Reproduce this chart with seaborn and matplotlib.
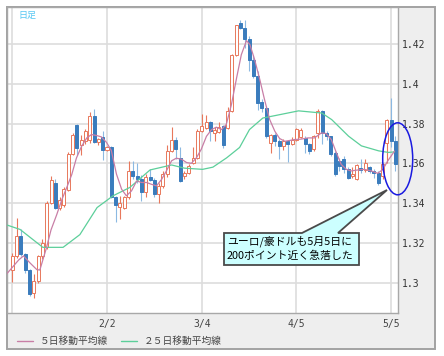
import matplotlib
matplotlib.use("Agg")
import matplotlib.pyplot as plt
import matplotlib.transforms as mtransforms
from matplotlib.patches import Rectangle, Polygon, Ellipse
from matplotlib.lines import Line2D
import numpy as np
import pandas as pd
import seaborn as sns

# daily OHLC (EUR/AUD), one row per trading day
opens = [1.3064, 1.3132, 1.3234, 1.3144, 1.3064, 1.2950, 1.3010, 1.3132, 1.3180, 1.3400,
         1.3501, 1.3378, 1.3390, 1.3466, 1.3649, 1.3795, 1.3690, 1.3710, 1.3719, 1.3840,
         1.3706, 1.3733, 1.3666, 1.3683, 1.3432, 1.3380, 1.3378, 1.3432, 1.3562, 1.3537,
         1.3520, 1.3454, 1.3532, 1.3515, 1.3445, 1.3487, 1.3549, 1.3663, 1.3716, 1.3629,
         1.3537, 1.3554, 1.3604, 1.3629, 1.3763, 1.3780, 1.3808, 1.3755, 1.3758, 1.3787,
         1.3780, 1.3865, 1.4146, 1.4305, 1.4280, 1.4227, 1.4121, 1.4038, 1.3910, 1.3879,
         1.3703, 1.3745, 1.3712, 1.3686, 1.3712, 1.3698, 1.3720, 1.3735, 1.3728, 1.3695,
         1.3672, 1.3753, 1.3862, 1.3753, 1.3737, 1.3653, 1.3612, 1.3620, 1.3570, 1.3537,
         1.3520, 1.3578, 1.3567, 1.3580, 1.3560, 1.3553, 1.3537, 1.3700, 1.3820, 1.3712]
highs = [1.3151, 1.3324, 1.3268, 1.3150, 1.3070, 1.3045, 1.3140, 1.3222, 1.3410, 1.3538,
         1.3520, 1.3432, 1.3481, 1.3655, 1.3755, 1.3798, 1.3745, 1.3773, 1.3857, 1.3871,
         1.3730, 1.3763, 1.3688, 1.3685, 1.3435, 1.3437, 1.3437, 1.3613, 1.3613, 1.3600,
         1.3540, 1.3545, 1.3570, 1.3525, 1.3503, 1.3562, 1.3690, 1.3783, 1.3733, 1.3680,
         1.3562, 1.3595, 1.3680, 1.3772, 1.3847, 1.3845, 1.3812, 1.3785, 1.3810, 1.3792,
         1.3885, 1.4150, 1.4298, 1.4322, 1.4322, 1.4238, 1.4146, 1.4063, 1.3922, 1.3888,
         1.3748, 1.3753, 1.3725, 1.3725, 1.3720, 1.3732, 1.3780, 1.3778, 1.3737, 1.3703,
         1.3745, 1.3873, 1.3870, 1.3762, 1.3740, 1.3662, 1.3628, 1.3637, 1.3582, 1.3582,
         1.3595, 1.3620, 1.3620, 1.3587, 1.3573, 1.3562, 1.3603, 1.3823, 1.3928, 1.3737]
lows = [1.3002, 1.3124, 1.3132, 1.3047, 1.2935, 1.2924, 1.2998, 1.3120, 1.3170, 1.3395,
        1.3370, 1.3365, 1.3382, 1.3460, 1.3640, 1.3644, 1.3640, 1.3695, 1.3702, 1.3700,
        1.3690, 1.3615, 1.3660, 1.3428, 1.3303, 1.3320, 1.3370, 1.3420, 1.3520, 1.3500,
        1.3412, 1.3430, 1.3510, 1.3430, 1.3403, 1.3478, 1.3530, 1.3655, 1.3621, 1.3505,
        1.3520, 1.3545, 1.3595, 1.3620, 1.3758, 1.3772, 1.3711, 1.3715, 1.3752, 1.3678,
        1.3772, 1.3860, 1.4140, 1.4276, 1.4180, 1.4063, 1.4030, 1.3870, 1.3860, 1.3728,
        1.3653, 1.3686, 1.3624, 1.3665, 1.3607, 1.3690, 1.3713, 1.3730, 1.3653, 1.3645,
        1.3662, 1.3728, 1.3695, 1.3720, 1.3637, 1.3537, 1.3562, 1.3553, 1.3523, 1.3528,
        1.3517, 1.3553, 1.3557, 1.3553, 1.3528, 1.3490, 1.3520, 1.3600, 1.3680, 1.3562]
closes = [1.3132, 1.3234, 1.3144, 1.3064, 1.2941, 1.3010, 1.3132, 1.3200, 1.3400, 1.3518,
          1.3375, 1.3417, 1.3471, 1.3649, 1.3745, 1.3677, 1.3720, 1.3761, 1.3837, 1.3706,
          1.3722, 1.3666, 1.3683, 1.3432, 1.3392, 1.3403, 1.3432, 1.3562, 1.3537, 1.3520,
          1.3454, 1.3532, 1.3515, 1.3445, 1.3487, 1.3549, 1.3663, 1.3716, 1.3671, 1.3512,
          1.3554, 1.3587, 1.3629, 1.3763, 1.3788, 1.3808, 1.3762, 1.3770, 1.3782, 1.3690,
          1.3865, 1.4146, 1.4294, 1.4280, 1.4227, 1.4121, 1.4038, 1.3904, 1.3879, 1.3736,
          1.3741, 1.3712, 1.3686, 1.3715, 1.3698, 1.3720, 1.3775, 1.3768, 1.3695, 1.3662,
          1.3737, 1.3862, 1.3753, 1.3737, 1.3645, 1.3545, 1.3587, 1.3570, 1.3528, 1.3548,
          1.3590, 1.3567, 1.3603, 1.3560, 1.3550, 1.3503, 1.3595, 1.3820, 1.3712, 1.3595]

# moving averages (x = trading-day index)
ma5_x = [-1.2, 1.5, 2.6, 4.1, 5.7, 6.4, 7.9, 9.0, 10.3, 11.5, 12.6, 13.8, 14.9, 16.1,
         17.3, 18.4, 19.6, 20.7, 21.9, 23.0, 24.2, 25.4, 26.5, 27.7, 28.9, 30.0, 31.2,
         32.3, 33.5, 34.7, 35.8, 37.0, 38.1, 39.3, 40.5, 41.6, 42.8, 43.9, 45.1, 46.3,
         47.4, 48.6, 49.7, 50.9, 52.1, 53.2, 54.4, 55.2, 56.3, 57.5, 58.6, 59.8, 61.0,
         62.1, 63.3, 64.4, 65.6, 67.1, 68.7, 70.2, 71.8, 72.9, 74.1, 75.3, 76.4, 77.6,
         78.7, 80.3, 81.8, 83.4, 84.9, 86.1, 87.2, 88.8]
ma5_y = [1.3047, 1.3115, 1.3135, 1.3100, 1.3066, 1.3064, 1.3173, 1.3266, 1.3341, 1.3417,
         1.3476, 1.3543, 1.3627, 1.3686, 1.3728, 1.3745, 1.3740, 1.3733, 1.3705, 1.3665,
         1.3546, 1.3470, 1.3437, 1.3462, 1.3512, 1.3504, 1.3504, 1.3495, 1.3487, 1.3520,
         1.3562, 1.3613, 1.3626, 1.3621, 1.3604, 1.3600, 1.3629, 1.3671, 1.3736, 1.3770,
         1.3782, 1.3770, 1.3795, 1.3895, 1.4029, 1.4146, 1.4217, 1.4197, 1.4121, 1.4021,
         1.3920, 1.3820, 1.3761, 1.3725, 1.3711, 1.3715, 1.3720, 1.3722, 1.3728, 1.3728,
         1.3753, 1.3750, 1.3720, 1.3653, 1.3595, 1.3570, 1.3562, 1.3567, 1.3570, 1.3562,
         1.3550, 1.3570, 1.3612, 1.3662]
ma25_x = [-1.2, 1.8, 4.8, 7.1, 11.8, 15.7, 19.7, 23.4, 27.3, 32.0, 37.0, 40.0, 44.2,
          46.6, 49.8, 52.8, 55.1, 58.2, 61.0, 66.5, 71.9, 74.2, 78.1, 81.1, 85.1, 87.4, 88.8]
ma25_y = [1.3290, 1.3268, 1.3217, 1.3178, 1.3178, 1.3242, 1.3378, 1.3437, 1.3479, 1.3567,
          1.3592, 1.3576, 1.3570, 1.3581, 1.3628, 1.3680, 1.3770, 1.3828, 1.3840, 1.3864,
          1.3853, 1.3820, 1.3737, 1.3688, 1.3663, 1.3655, 1.3658]

date_ticks = [0, 22, 44, 66, 88]
date_labels = ["", "2/2", "3/4", "4/5", "5/5"]
price_ticks = [1.30, 1.32, 1.34, 1.36, 1.38, 1.40, 1.42]
price_labels = ["1.3", "1.32", "1.34", "1.36", "1.38", "1.4", "1.42"]
legend_labels = ["５日移動平均線", "２５日移動平均線"]
note_lines = ["ユーロ/豪ドルも5月5日に", "200ポイント近く急落した"]

UP = "#e8785c"
DOWN = "#3a7cbd"
DOWN_WICK = "#8cb9e2"
MA5 = "#c87ea6"
MA25 = "#5ccf9a"

sns.set_style("white")
plt.rcParams["font.family"] = ["Noto Sans CJK JP", "DejaVu Sans"]

df = pd.DataFrame({"open": opens, "high": highs, "low": lows, "close": closes})
df["x"] = np.arange(len(df))
df["up"] = df["close"] >= df["open"]
df["bottom"] = df[["open", "close"]].min(axis=1)
df["body"] = (df["close"] - df["open"]).abs().clip(lower=0.00015)

W, H = 444, 356
fig = plt.figure(figsize=(W / 100, H / 100), dpi=100)
px = mtransforms.Affine2D().scale(1 / W, -1 / H).translate(0, 1) + fig.transFigure

# grey frame behind plot area
frame = Rectangle((7, 7), 428, 342, transform=px, facecolor="#eeeeee",
                  edgecolor="#a2a2a2", lw=1.4, zorder=-5)
fig.patches.append(frame)

ax = fig.add_axes([7 / W, 1 - 313 / H, 391 / W, 306 / H])
ax.set_facecolor("white")
for s in ax.spines.values():
    s.set_color("#a8a8a8")
    s.set_linewidth(1.0)

# wicks then bodies
ax.vlines(df["x"], df["low"], df["high"],
          colors=np.where(df["up"], UP, DOWN_WICK), lw=0.8, zorder=2)
ax.bar(df["x"], df["body"], bottom=df["bottom"], width=0.7,
       color=np.where(df["up"], "white", DOWN),
       edgecolor=np.where(df["up"], UP, DOWN), linewidth=0.7, zorder=3)

sns.lineplot(x=ma25_x, y=ma25_y, ax=ax, color=MA25, lw=0.9, zorder=4)
sns.lineplot(x=ma5_x, y=ma5_y, ax=ax, color=MA5, lw=0.9, zorder=4)

ax.set_xlim(-1.23, 89.6)
ax.set_ylim(1.2848, 1.4386)
ax.set_xticks(date_ticks)
ax.set_xticklabels(date_labels, family="DejaVu Sans Mono", fontsize=7, color="#444444")
ax.set_yticks(price_ticks)
ax.set_yticklabels(price_labels, family="DejaVu Sans Mono", fontsize=7, color="#333333")
ax.yaxis.tick_right()
ax.tick_params(axis="x", length=0, pad=4)
ax.tick_params(axis="y", length=0, pad=3)
ax.grid(True, color="#dddddd", lw=1.2)
ax.set_axisbelow(True)
ax.set_xlabel("")
ax.set_ylabel("")

fig.text(18 / W, 1 - 15 / H, "日足", fontsize=6.5, color="#55c6f2", va="center")

handles = [Line2D([], [], color=MA5, lw=1.0), Line2D([], [], color=MA25, lw=1.0)]
fig.legend(handles, legend_labels, loc="center left", bbox_to_anchor=(17 / W, 1 - 341 / H),
           ncol=2, frameon=False, fontsize=7, handlelength=1.6, handletextpad=0.7,
           columnspacing=1.4, borderpad=0, borderaxespad=0, labelcolor="#444444")

# callout box with pointer
callout = Polygon([(224, 233), (302, 233), (387, 190), (338, 233), (359, 233),
                   (359, 265), (224, 265)], closed=True, transform=px,
                  facecolor="#ccffff", edgecolor="#4a4a4a", lw=1.3, zorder=6)
fig.patches.append(callout)
for i, line in enumerate(note_lines):
    fig.text(227 / W, 1 - (241 + 15 * i) / H, line, fontsize=7.8, color="black",
             va="center", zorder=7)

ring = Ellipse((397.7, 158.8), 30, 72, transform=px, facecolor="none",
               edgecolor="#1a1ae0", lw=1.1, zorder=8)
fig.patches.append(ring)

fig.savefig("out.png", dpi=100)
